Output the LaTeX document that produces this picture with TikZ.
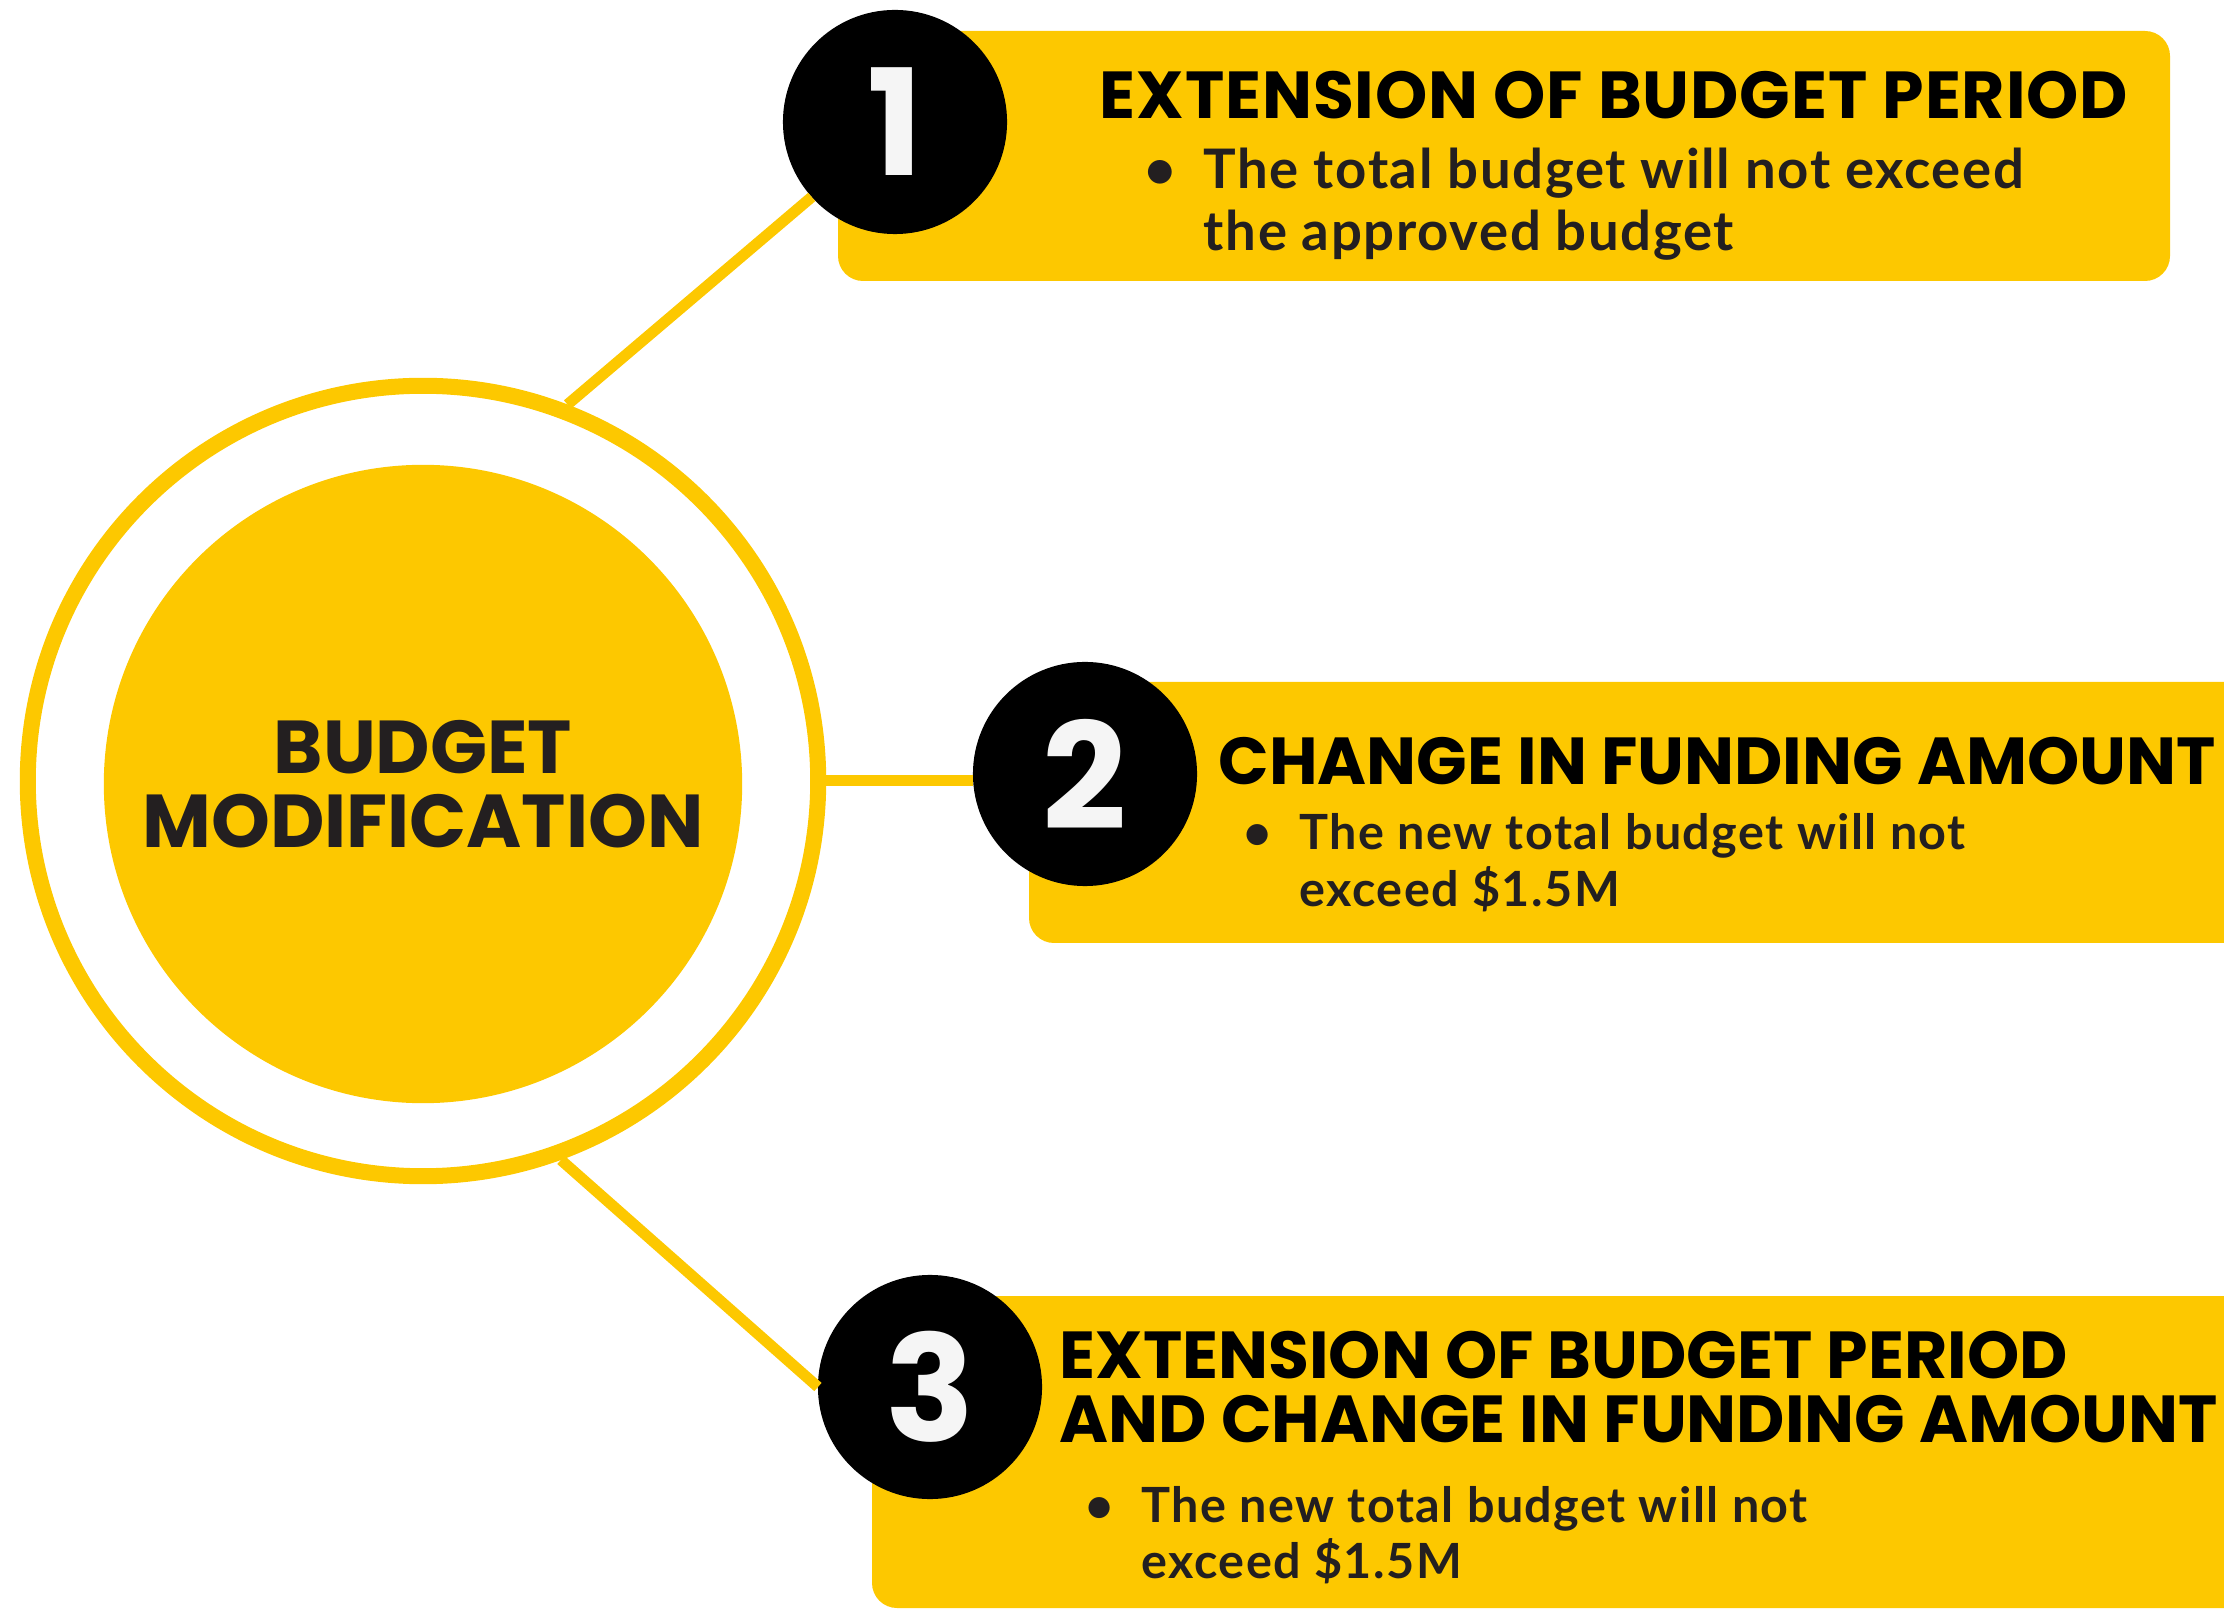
\documentclass[tikz,border=0pt]{standalone}
\usepackage{fontspec}
\newfontfamily\headfont{Poppins}
\newfontfamily\headwidefont{Poppins}[LetterSpace=1.4]
\newfontfamily\bodyfont{Lato}[LetterSpace=3]
\definecolor{ybox}{HTML}{FDC800}
\definecolor{ink}{HTML}{231F20}
\definecolor{digit}{HTML}{F5F5F5}
\tikzset{
  boxshape/.style={fill=ybox, rounded corners=0.25cm},
  numcirc/.style={circle, fill=black, minimum size=2.24cm, inner sep=0pt, outer sep=0pt,
    text=digit, font=\headfont\bfseries\fontsize{42}{42}\selectfont},
  conn/.style={draw=ybox, line width=0.11cm},
  ringstyle/.style={circle, draw=ybox, line width=0.16cm, minimum size=7.9cm, inner sep=0pt},
  hubstyle/.style={circle, fill=ybox, minimum size=6.38cm, inner sep=0pt, align=center,
    text=ink, font=\headfont\bfseries\fontsize{21.3}{21}\selectfont},
  title/.style={anchor=base west, inner sep=0pt, text=black,
    font=\headfont\bfseries\fontsize{18.9}{18.2}\selectfont},
  titlewide/.style={title, font=\headwidefont\bfseries\fontsize{18.9}{18.2}\selectfont},
  bodyA/.style={anchor=base west, inner sep=0pt, text=ink,
    font=\bodyfont\bfseries\fontsize{15.5}{17.6}\selectfont},
  bodyB/.style={anchor=base west, inner sep=0pt, text=ink,
    font=\bodyfont\bfseries\fontsize{13.8}{16}\selectfont},
}
\begin{document}
\begin{tikzpicture}[x=0.01cm, y=-0.01cm]
\useasboundingbox (0,0) rectangle (2224,1610);
\clip (0,0) rectangle (2224,1610);
% boxes
\path[boxshape] (838,31) rectangle (2170,281);
\path[boxshape] (1029,682) rectangle (2300,943);
\path[boxshape] (872,1296) rectangle (2300,1608);
% ring
\node[ringstyle] (ring) at (423,781) {};
% numbered circles
\path (895,122) coordinate (c1) (1085,774) coordinate (c2) (930,1387) coordinate (c3);
\node[numcirc] (n1) at (c1) {1};
\node[numcirc] (n2) at (c2) {2};
\node[numcirc] (n3) at (c3) {3};
% connectors
\draw[conn] (ring.69.5) -- (n1.222);
\draw[conn] (ring.east) -- (ring.east -| n2.west);
\draw[conn] (ring.-70.8) -- (n3.west);
% hub
\node[hubstyle] (hub) at (423,784) {BUDGET\\MODIFICATION};
% texts box 1
\node[titlewide] (t1) at (1099,119) {EXTENSION OF BUDGET PERIOD};
\node[bodyA, anchor=base] (d1) at (1160,189) {•};
\node[bodyA] (p1) at (1203,189) {\parbox[t]{9.5cm}{\raggedright The total budget will not exceed\\the approved budget}};
% texts box 2
\node[title] (t2) at (1218,785) {CHANGE IN FUNDING AMOUNT};
\node[bodyB, anchor=base] (d2) at (1258,850) {•};
\node[bodyB] (p2) at (1299,850) {\parbox[t]{8.5cm}{\raggedright The new total budget will not\\exceed \$1.5M}};
% texts box 3
\node[title] (t3) at (1059,1378) {\parbox[t]{12cm}{\raggedright EXTENSION OF BUDGET PERIOD\\AND CHANGE IN FUNDING AMOUNT}};
\node[bodyB, anchor=base] (d3) at (1100,1522) {•};
\node[bodyB] (p3) at (1141,1522) {\parbox[t]{8.5cm}{\raggedright The new total budget will not\\exceed \$1.5M}};
\end{tikzpicture}
\end{document}
